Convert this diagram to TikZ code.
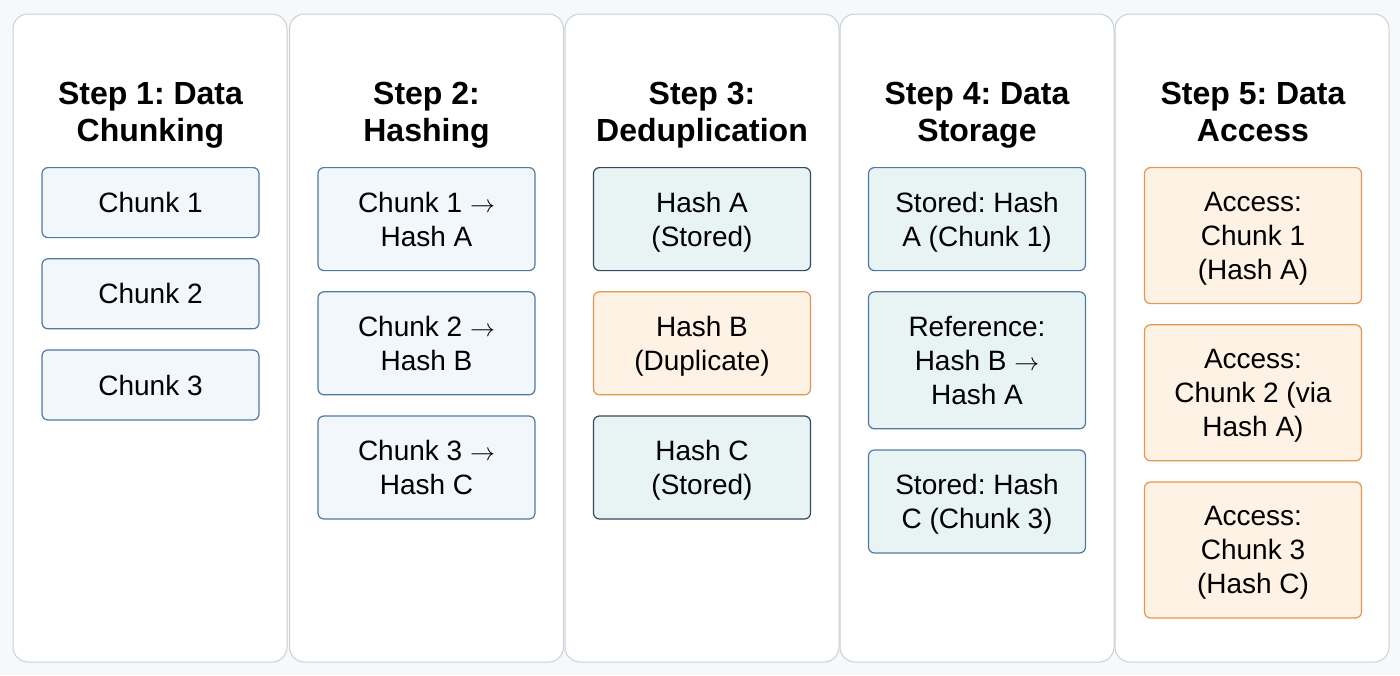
\documentclass[tikz,border=0pt]{standalone}
\usepackage{fontspec}
\setmainfont{Liberation Sans}
\usepackage{tikz}
\usetikzlibrary{positioning}
\definecolor{dedupbg}{RGB}{247,248,249}
\definecolor{dedupline}{RGB}{200,208,216}
\definecolor{dedupblue}{RGB}{82,121,164}
\definecolor{dedupbluebg}{RGB}{241,247,251}
\definecolor{dedupteal}{RGB}{232,244,244}
\definecolor{dedupnavy}{RGB}{52,72,96}
\definecolor{duporange}{RGB}{226,150,80}
\definecolor{duporangebg}{RGB}{253,242,228}
\newcommand{\toarr}{\ensuremath{\rightarrow}}
\frenchspacing

\begin{document}
\begin{tikzpicture}[
    x=1pt,y=-1pt,
    panel/.style={draw=dedupline,fill=white,rounded corners=15pt,line width=1pt,
                  minimum width=274pt,minimum height=648pt},
    title/.style={align=center,text depth=0pt,font=\fontsize{32}{37}\selectfont\bfseries},
    chunk/.style={draw=dedupblue,fill=dedupbluebg,rounded corners=6pt,line width=1.2pt,
                  minimum width=217pt,align=center,text depth=0pt,
                  font=\fontsize{28}{34}\selectfont},
    stored/.style={chunk,draw=dedupnavy,fill=dedupteal},
    kept/.style={chunk,fill=dedupteal},
    dup/.style={chunk,draw=duporange,fill=duporangebg}
  ]
    \fill[dedupbg] (0,0) rectangle (1400,675);

    % panels
    \node[panel] (p1) at (150,338) {};
    \node[panel] (p2) at (426.5,338) {};
    \node[panel] (p3) at (702,338) {};
    \node[panel] (p4) at (977,338) {};
    \node[panel] (p5) at (1252,338) {};

    \node[title] (t1) at (150.5,111.5) {Step 1: Data\\Chunking};
    \node[title] (t2) at (426.5,111.5) {Step 2:\\Hashing};
    \node[title] (t3) at (702,111.5) {Step 3:\\Deduplication};
    \node[title] (t4) at (977,111.5) {Step 4: Data\\Storage};
    \node[title] (t5) at (1253,111.5) {Step 5: Data\\Access};

    % step 1
    \node[chunk,minimum height=70pt,anchor=north] (c1) at (150.5,167) {Chunk 1};
    \node[chunk,minimum height=70pt,below=20pt of c1] (c2) {Chunk 2};
    \node[chunk,minimum height=70pt,below=20pt of c2] (c3) {Chunk 3};

    % step 2
    \node[chunk,minimum height=103pt,anchor=north] (h1) at (426.5,167) {Chunk 1 \toarr\\Hash A};
    \node[chunk,minimum height=103pt,below=20pt of h1] (h2) {Chunk 2 \toarr\\Hash B};
    \node[chunk,minimum height=103pt,below=20pt of h2] (h3) {Chunk 3 \toarr\\Hash C};

    % step 3
    \node[stored,minimum height=103pt,anchor=north] (d1) at (702,167) {Hash A\\(Stored)};
    \node[dup,minimum height=103pt,below=20pt of d1] (d2) {Hash B\\(Duplicate)};
    \node[stored,minimum height=103pt,below=20pt of d2] (d3) {Hash C\\(Stored)};

    % step 4
    \node[kept,minimum height=103pt,anchor=north] (s1) at (977,167) {Stored: Hash\\A (Chunk 1)};
    \node[kept,minimum height=137pt,below=20pt of s1] (s2) {Reference:\\Hash B \toarr\\Hash A};
    \node[kept,minimum height=103pt,below=20pt of s2] (s3) {Stored: Hash\\C (Chunk 3)};

    % step 5
    \node[dup,minimum height=136pt,anchor=north] (a1) at (1253,167) {Access:\\Chunk 1\\(Hash A)};
    \node[dup,minimum height=136pt,below=20pt of a1] (a2) {Access:\\Chunk 2 (via\\Hash A)};
    \node[dup,minimum height=136pt,below=20pt of a2] (a3) {Access:\\Chunk 3\\(Hash C)};
  \end{tikzpicture}
\end{document}
